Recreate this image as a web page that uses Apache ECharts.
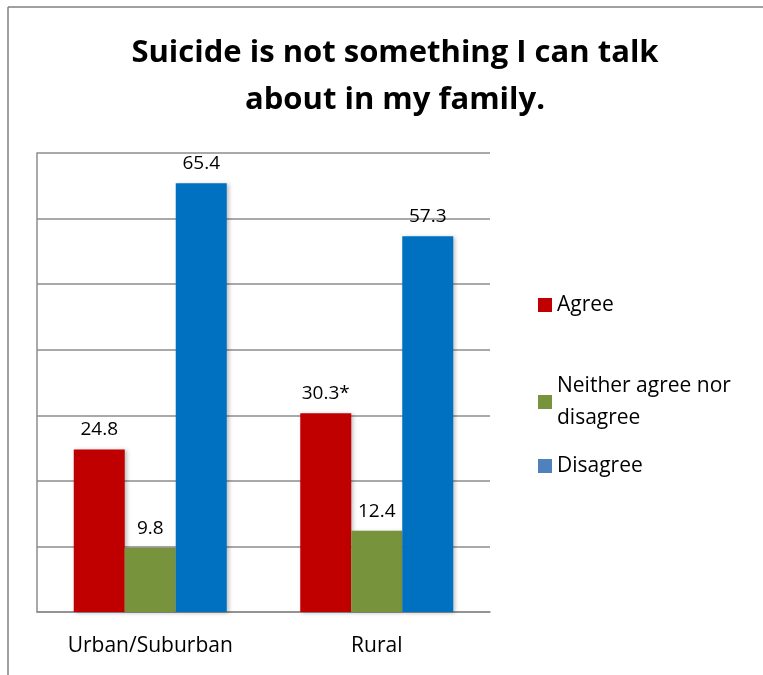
<!DOCTYPE html>
<html><head><meta charset="utf-8">
<script src="https://cdn.jsdelivr.net/npm/echarts@6/dist/echarts.min.js"></script>
<style>html,body{margin:0;padding:0;background:#fff}#c{width:763px;height:675px}</style>
</head><body><div id="c"></div>
<script>
const categories = ['Urban/Suburban', 'Rural'];
const seriesNames = ['Agree', 'Neither agree nor\ndisagree', 'Disagree'];
const agree = [24.8, 30.3];
const neither = [9.8, 12.4];
const disagree = [65.4, 57.3];
const agreeLabels = ['24.8', '30.3*'];
const neitherLabels = ['9.8', '12.4'];
const disagreeLabels = ['65.4', '57.3'];
const yTicks = [0, 10, 20, 30, 40, 50, 60, 70];

const FONT = '"Open Sans", "Noto Sans", sans-serif';
const barColors = ['#C00000', '#77933C', '#0070C0'];
const legendColors = ['#C00000', '#77933C', '#4F81BD'];

function mkSeries(name, data, labels, color) {
  return {
    name: name, type: 'bar', data: data, barWidth: 51, barGap: '0%',
    itemStyle: { color: color, shadowColor: 'rgba(0,0,0,0.25)', shadowBlur: 4, shadowOffsetX: 2, shadowOffsetY: 1 },
    label: { show: true, position: 'top', distance: 10, color: '#000', fontFamily: FONT, fontSize: 19,
      formatter: p => labels[p.dataIndex] },
    emphasis: { disabled: true }
  };
}
function mkLegend(i, top) {
  return {
    orient: 'vertical', left: 533, top: top, itemWidth: 14, itemHeight: 14, itemGap: 10,
    icon: 'rect', selectedMode: false,
    textStyle: { fontFamily: FONT, fontSize: 21, color: '#000', lineHeight: 32 },
    data: [{ name: seriesNames[i], itemStyle: { color: legendColors[i] } }]
  };
}
const chart = echarts.init(document.getElementById('c'));
chart.setOption({
  animation: false,
  title: {
    text: 'Suicide is not something I can talk\nabout in my family.',
    left: 390, textAlign: 'center', top: 25,
    textStyle: { fontFamily: FONT, fontWeight: 'bold', fontSize: 31, lineHeight: 47, color: '#000' }
  },
  graphic: [
    { type: 'line', shape: { x1: 8, y1: 7, x2: 8, y2: 675 }, style: { stroke: '#808080', lineWidth: 1.5 } },
    { type: 'line', shape: { x1: 8, y1: 7, x2: 763, y2: 7 }, style: { stroke: '#808080', lineWidth: 1.5 } }
  ],
  legend: [
    mkLegend(0, 284),
    mkLegend(1, 365),
    mkLegend(2, 445)
  ],
  grid: { left: 37, right: 273, top: 153, bottom: 63 },
  xAxis: {
    type: 'category', data: categories,
    axisLine: { show: true, lineStyle: { color: '#8c8c8c', width: 1.5 } },
    axisTick: { show: false },
    axisLabel: { fontFamily: FONT, fontSize: 21, color: '#000', margin: 24 }
  },
  yAxis: {
    type: 'value', min: yTicks[0], max: yTicks[yTicks.length - 1], interval: 10,
    axisLine: { show: true, lineStyle: { color: '#8c8c8c', width: 1.5 } },
    axisTick: { show: false },
    axisLabel: { show: false },
    splitLine: { lineStyle: { color: '#8c8c8c', width: 1.5 } }
  },
  series: [
    mkSeries(seriesNames[0], agree, agreeLabels, barColors[0]),
    mkSeries(seriesNames[1], neither, neitherLabels, barColors[1]),
    mkSeries(seriesNames[2], disagree, disagreeLabels, barColors[2])
  ]
});
</script></body></html>
